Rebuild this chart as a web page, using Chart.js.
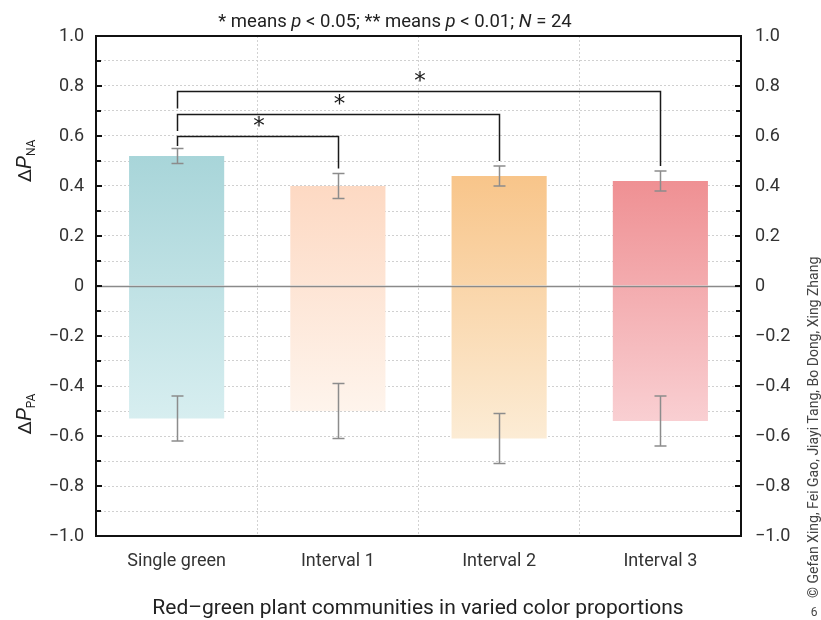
<!DOCTYPE html>
<html lang="en">
<head>
  <meta charset="UTF-8" />
  <title>Red-green plant communities</title>
  <script src="https://cdn.jsdelivr.net/npm/chart.js"></script>
  <style>
    body { margin: 0; background: #fff; }
    #wrap { width: 821px; height: 620px; }
  </style>
</head>
<body>
  <div id="wrap"><canvas id="chart" width="821" height="620"></canvas></div>

  <script>
    // data
    const categories = ['Single green', 'Interval 1', 'Interval 2', 'Interval 3'];
    const naValues   = [0.52, 0.40, 0.44, 0.42];
    const naErrLow   = [0.49, 0.35, 0.40, 0.38];
    const naErrHigh  = [0.55, 0.45, 0.48, 0.46];
    const paValues   = [-0.53, -0.50, -0.61, -0.54];
    const paErrLow   = [-0.62, -0.61, -0.71, -0.64];
    const paErrHigh  = [-0.44, -0.39, -0.51, -0.44];
    // significance brackets: from / to category, bracket level, leg ends
    const bracketFrom  = [0, 0, 0];
    const bracketTo    = [1, 2, 3];
    const bracketLevel = [0.60, 0.69, 0.78];
    const bracketLeftEnd  = [0.56, 0.62, 0.71];
    const bracketRightEnd = [0.47, 0.50, 0.48];
    const bracketLabel = ['*', '*', '*'];

    const topColors    = ['#a8d5d9', '#fdd9c3', '#f8c58a', '#ef9093'];
    const bottomColors = ['#d7eef0', '#fef4ec', '#fcecd5', '#f9cfd2'];

    const FONT = 'Roboto, "DejaVu Sans", sans-serif';
    const fmt = v => {
      const r = Math.round(v * 10) / 10;
      if (Math.abs(r) < 1e-9) return '0';
      return (r < 0 ? '\u2212' : '') + Math.abs(r).toFixed(1);
    };

    function barGradient(ctx) {
      const chart = ctx.chart;
      const y = chart.scales && chart.scales.y;
      if (!y || ctx.dataIndex === undefined) return topColors[0];
      const i = ctx.dataIndex;
      const y0 = y.getPixelForValue(naValues[i]);
      const y1 = y.getPixelForValue(paValues[i]);
      if (!isFinite(y0) || !isFinite(y1)) return topColors[i];
      const g = chart.ctx.createLinearGradient(0, y0, 0, y1);
      g.addColorStop(0, topColors[i]);
      g.addColorStop(1, bottomColors[i]);
      return g;
    }

    const extras = {
      id: 'extras',
      afterDatasetsDraw(chart) {
        const { ctx, chartArea: a, scales: { x, y } } = chart;
        ctx.save();
        // zero line
        ctx.strokeStyle = '#8a8a8a';
        ctx.lineWidth = 1.5;
        const yz = Math.round(y.getPixelForValue(0)) + 0.5;
        ctx.beginPath(); ctx.moveTo(a.left, yz); ctx.lineTo(a.right, yz); ctx.stroke();

        // error bars
        ctx.strokeStyle = '#8c8c8c';
        ctx.lineWidth = 1.5;
        const cap = 6;
        const drawErr = (xp, lo, hi) => {
          const yl = y.getPixelForValue(lo), yh = y.getPixelForValue(hi);
          ctx.beginPath();
          ctx.moveTo(xp, yl); ctx.lineTo(xp, yh);
          ctx.moveTo(xp - cap, yl); ctx.lineTo(xp + cap, yl);
          ctx.moveTo(xp - cap, yh); ctx.lineTo(xp + cap, yh);
          ctx.stroke();
        };
        categories.forEach((c, i) => {
          const xp = Math.round(x.getPixelForValue(i)) + 0.5;
          drawErr(xp, naErrLow[i], naErrHigh[i]);
          drawErr(xp, paErrLow[i], paErrHigh[i]);
        });

        // significance brackets
        ctx.strokeStyle = '#1a1a1a';
        ctx.lineWidth = 1.5;
        ctx.fillStyle = '#1a1a1a';
        ctx.font = '23px "DejaVu Sans", sans-serif';
        ctx.textAlign = 'center';
        ctx.textBaseline = 'middle';
        bracketLevel.forEach((lv, k) => {
          const x0 = Math.round(x.getPixelForValue(bracketFrom[k])) + 0.5;
          const x1 = Math.round(x.getPixelForValue(bracketTo[k])) + 0.5;
          const yl = Math.round(y.getPixelForValue(lv)) + 0.5;
          ctx.beginPath();
          ctx.moveTo(x0, y.getPixelForValue(bracketLeftEnd[k]));
          ctx.lineTo(x0, yl);
          ctx.lineTo(x1, yl);
          ctx.lineTo(x1, y.getPixelForValue(bracketRightEnd[k]));
          ctx.stroke();
          ctx.fillText(bracketLabel[k], (x0 + x1) / 2 + 1, yl - 9);
        });

        // axis frame and inner tick marks
        ctx.strokeStyle = '#111';
        ctx.lineWidth = 2;
        ctx.strokeRect(a.left, a.top, a.right - a.left, a.bottom - a.top);
        ctx.beginPath();
        for (let v = -10; v <= 10; v++) {
          const yp = y.getPixelForValue(v / 10);
          const len = v % 2 === 0 ? 6 : 5;
          ctx.moveTo(a.left, yp); ctx.lineTo(a.left + len, yp);
          ctx.moveTo(a.right, yp); ctx.lineTo(a.right - len, yp);
        }
        ctx.stroke();
        ctx.restore();
      },
      afterDraw(chart) {
        const { ctx } = chart;
        ctx.save();
        ctx.fillStyle = '#222';
        ctx.textBaseline = 'alphabetic';

        // top note with italic letters
        const parts = [
          ['* means ', false], ['p', true], [' < 0.05; ** means ', false],
          ['p', true], [' < 0.01; ', false], ['N', true], [' = 24', false]
        ];
        const fnt = it => (it ? 'italic ' : '') + '18.5px ' + FONT;
        let total = 0;
        parts.forEach(p => { ctx.font = fnt(p[1]); total += ctx.measureText(p[0]).width; });
        let cx = 395 - total / 2;
        ctx.textAlign = 'left';
        parts.forEach(p => { ctx.font = fnt(p[1]); ctx.fillText(p[0], cx, 27); cx += ctx.measureText(p[0]).width; });

        // x axis title
        ctx.textAlign = 'center';
        ctx.font = '21px ' + FONT;
        ctx.fillText('Red\u2013green plant communities in varied color proportions', 418, 614);

        // y axis titles: ΔP with subscript
        const yTitle = (sub, cy) => {
          ctx.save();
          ctx.translate(31, cy);
          ctx.rotate(-Math.PI / 2);
          ctx.textAlign = 'left';
          ctx.font = '19px ' + FONT;
          const w1 = ctx.measureText('\u2206').width;
          ctx.font = 'italic 21px ' + FONT;
          const w2 = ctx.measureText('P').width;
          ctx.font = '12px ' + FONT;
          const w3 = ctx.measureText(sub).width;
          let sx = -(w1 + w2 + w3) / 2;
          ctx.font = '19px ' + FONT;
          ctx.fillText('\u2206', sx, 0); sx += w1;
          ctx.font = 'italic 21px ' + FONT;
          ctx.fillText('P', sx, 0); sx += w2;
          ctx.font = '12px ' + FONT;
          ctx.fillText(sub, sx, 4);
          ctx.restore();
        };
        yTitle('NA', 161);
        yTitle('PA', 414);

        // credit on the right edge
        ctx.save();
        ctx.fillStyle = '#444';
        ctx.translate(818, 598);
        ctx.rotate(-Math.PI / 2);
        ctx.textAlign = 'left';
        ctx.font = '14px ' + FONT;
        ctx.fillText('\u00a9 Gefan Xing, Fei Gao, Jiayi Tang, Bo Dong, Xing Zhang', 0, 0);
        ctx.restore();
        ctx.fillStyle = '#444';
        ctx.font = '12px ' + FONT;
        ctx.textAlign = 'center';
        ctx.fillText('6', 814, 616);
        ctx.restore();
      }
    };

    const ctx = document.getElementById('chart').getContext('2d');
    new Chart(ctx, {
      type: 'bar',
      data: {
        labels: categories,
        datasets: [
          { label: 'NA', data: naValues, backgroundColor: barGradient, borderWidth: 0 },
          { label: 'PA', data: paValues, backgroundColor: barGradient, borderWidth: 0 }
        ]
      },
      options: {
        responsive: false,
        animation: false,
        layout: { padding: { top: 36, right: 0, bottom: 0, left: 0 } },
        datasets: { bar: { categoryPercentage: 1, barPercentage: 0.59 } },
        plugins: { legend: { display: false }, tooltip: { enabled: false } },
        scales: {
          x: {
            stacked: true,
            afterFit: s => { s.height = 84; },
            grid: { color: '#d2d2d2', lineWidth: 1, drawTicks: false },
            border: { display: false, dash: [2, 2] },
            ticks: { color: '#333', padding: 15, font: { family: FONT, size: 18 } }
          },
          y: {
            stacked: true,
            min: -1, max: 1,
            afterFit: s => { s.width = 96; },
            afterBuildTicks: s => { s.ticks = Array.from({ length: 21 }, (_, k) => ({ value: -1 + k * 0.1 })); },
            grid: { color: '#d0d0d0', lineWidth: 1, drawTicks: false },
            border: { display: false, dash: [2, 2] },
            ticks: {
              color: '#333', padding: 12, autoSkip: false,
              font: { family: FONT, size: 18 },
              callback: v => (Math.round(v * 10) % 2 === 0 ? fmt(v) : '')
            }
          },
          y2: {
            position: 'right',
            min: -1, max: 1,
            afterFit: s => { s.width = 80; },
            afterBuildTicks: s => { s.ticks = Array.from({ length: 11 }, (_, k) => ({ value: -1 + k * 0.2 })); },
            grid: { display: false, drawTicks: false },
            border: { display: false },
            ticks: { color: '#333', padding: 14, autoSkip: false, font: { family: FONT, size: 18 }, callback: v => fmt(v) }
          }
        }
      },
      plugins: [extras]
    });
  </script>
</body>
</html>
